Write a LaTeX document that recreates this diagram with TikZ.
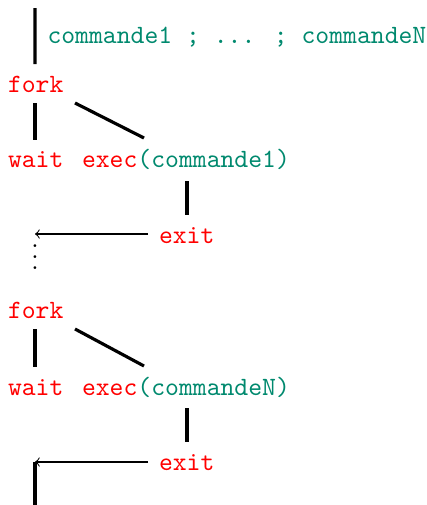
\documentclass[tikz,border=0pt]{standalone}
\usepackage{xcolor}
\definecolor{pine}{RGB}{0,137,110}
\begin{document}
\begin{tikzpicture}[x=0.3788pt,y=-0.3788pt,
  lbl/.style={inner sep=0pt,anchor=base west,font=\ttfamily},
  call/.style={lbl,text=red},
  cmd/.style={lbl,text=pine},
  link/.style={line width=1.2pt,line cap=butt},
  ret/.style={line width=0.4pt,->}]
\useasboundingbox (0,0) rectangle (426,505);

% first command
\coordinate (top) at (35,8);
\node[cmd]  (cmds)  at (47,43)   {commande1 ; ... ; commandeN};
\node[call] (fork1) at (7.5,92)  {fork};
\node[call] (wait1) at (7.5,167) {wait};
\node[call] (exec1) at (81.5,167) {exec\textcolor{pine}{(commande1)}};
\node[call] (exit1) at (158.5,243) {exit};
\node[inner sep=0pt,anchor=base] (dots) at (35,269) {$\vdots$};
\coordinate (back1) at (35,234);

% last command
\node[call] (fork2) at (7.5,318)  {fork};
\node[call] (wait2) at (7.5,395)  {wait};
\node[call] (exec2) at (81.5,395) {exec\textcolor{pine}{(commandeN)}};
\node[call] (exit2) at (158.5,470) {exit};
\coordinate (back2) at (35,462);
\coordinate (bottom) at (35,505);

% process tree, first command
\draw[link] (top) -- ([shift={(27.5,-28)}]fork1.base west);
\draw[link] ([shift={(27.5,11)}]fork1.base west) -- ([shift={(27.5,-27)}]wait1.base west);
\draw[link] ([shift={(67.5,11)}]fork1.base west) -- ([shift={(62.5,-29)}]exec1.base west);
\draw[link] ([shift={(105.5,14)}]exec1.base west) -- ([shift={(28.5,-28)}]exit1.base west);
\draw[ret]  ([shift={(-10.5,-9)}]exit1.base west) -- (back1);

% process tree, last command
\draw[link] ([shift={(27.5,11)}]fork2.base west) -- ([shift={(27.5,-28)}]wait2.base west);
\draw[link] ([shift={(67.5,11)}]fork2.base west) -- ([shift={(62.5,-29)}]exec2.base west);
\draw[link] ([shift={(105.5,13)}]exec2.base west) -- ([shift={(28.5,-28)}]exit2.base west);
\draw[ret]  ([shift={(-10.5,-8)}]exit2.base west) -- (back2);
\draw[link] (back2) -- (bottom);
\end{tikzpicture}
\end{document}
